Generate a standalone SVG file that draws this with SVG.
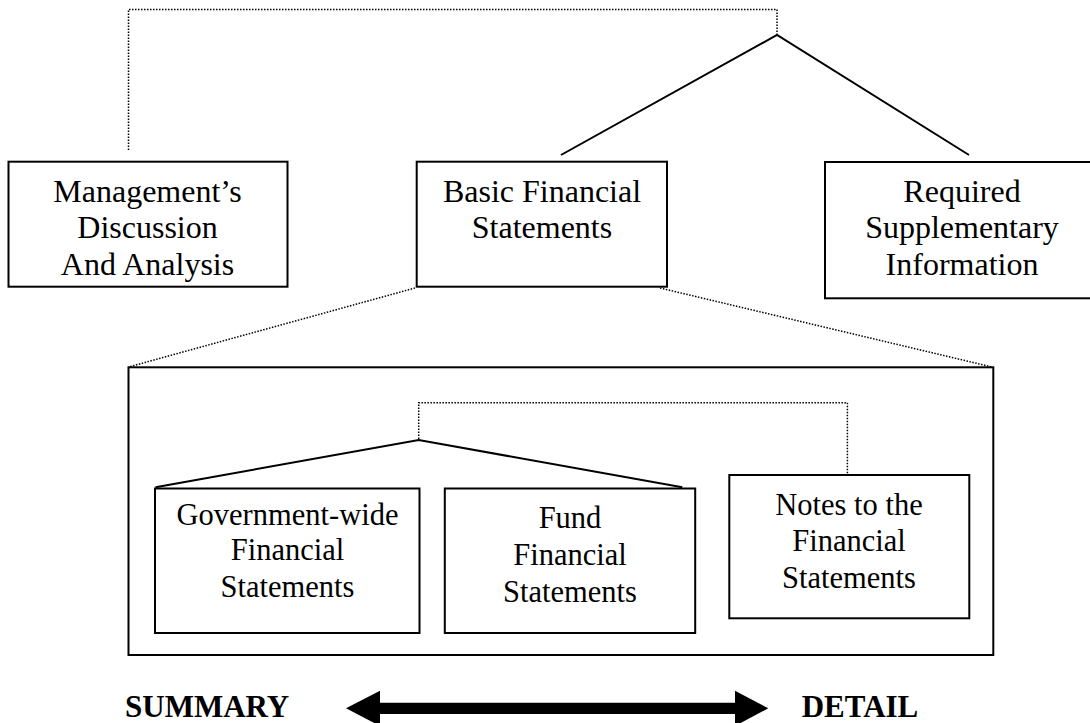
<svg xmlns="http://www.w3.org/2000/svg" width="1090" height="723" viewBox="0 0 1090 723">
<style>
.box{fill:#fff;stroke:#000;stroke-width:2}
.frame{fill:none;stroke:#000;stroke-width:2}
.t{font-family:"Liberation Serif","Times New Roman",serif;font-size:32px;fill:#000;text-anchor:middle}
.s{font-size:30.5px}
.b{font-family:"Liberation Serif","Times New Roman",serif;font-size:31px;font-weight:bold;fill:#000}
.dot{fill:none;stroke:#000;stroke-width:1.5;stroke-dasharray:1.5 1.5}
.sol{fill:none;stroke:#000;stroke-width:2}
</style>
<rect width="1090" height="723" fill="#fff"/>
<g id="bfs-detail">
<rect class="frame" x="128.5" y="367.3" width="864.8" height="287.7"/>
</g>
<g id="connectors">
<polyline class="dot" points="128.5,150 128.5,9.5 777,9.5 777,34"/>
<polyline class="sol" points="561,155 777,35 969,155"/>
<line class="dot" x1="415" y1="288" x2="128.5" y2="367"/>
<line class="dot" x1="660" y1="288" x2="992" y2="367"/>
<polyline class="dot" points="418.7,439 418.7,402.7 847.4,402.7 847.4,473.5"/>
<polyline class="sol" points="155.5,487.3 418.7,440 682.3,487.3"/>
</g>
<g id="mdna">
<rect class="box" x="8.5" y="161.7" width="279" height="125"/>
<text class="t" x="147.5" y="201.7">Management’s</text>
<text class="t" x="147.5" y="238.3">Discussion</text>
<text class="t" x="147.5" y="275">And Analysis</text>
</g>
<g id="basic">
<rect class="box" x="416.7" y="161.7" width="250.3" height="125"/>
<text class="t" x="542" y="201.7">Basic Financial</text>
<text class="t" x="542" y="238">Statements</text>
</g>
<g id="rsi">
<rect class="box" x="825" y="162" width="280" height="136.3"/>
<text class="t" x="962" y="201.7">Required</text>
<text class="t" x="962" y="238.3">Supplementary</text>
<text class="t" x="962" y="275">Information</text>
</g>
<g id="govwide">
<rect class="box" x="155" y="488.5" width="264.5" height="144.5"/>
<text class="t s" x="287.5" y="525">Government-wide</text>
<text class="t s" x="287.5" y="560">Financial</text>
<text class="t s" x="287.5" y="596.7">Statements</text>
</g>
<g id="fund">
<rect class="box" x="444.8" y="488.5" width="250.4" height="144.5"/>
<text class="t s" x="570" y="528">Fund</text>
<text class="t s" x="570" y="565">Financial</text>
<text class="t s" x="570" y="601.7">Statements</text>
</g>
<g id="notes">
<rect class="box" x="729.3" y="475" width="240" height="143.3"/>
<text class="t s" x="849" y="515">Notes to the</text>
<text class="t s" x="849" y="550.7">Financial</text>
<text class="t s" x="849" y="588.3">Statements</text>
</g>
<g id="scale">
<text class="b" x="125" y="716.7">SUMMARY</text>
<polygon fill="#000" points="346,708.3 380,690.7 380,702.7 735,702.7 735,690.7 768.3,708.3 735,726 735,714 380,714 380,726"/>
<text class="b" x="801.7" y="716.7">DETAIL</text>
</g>
</svg>
